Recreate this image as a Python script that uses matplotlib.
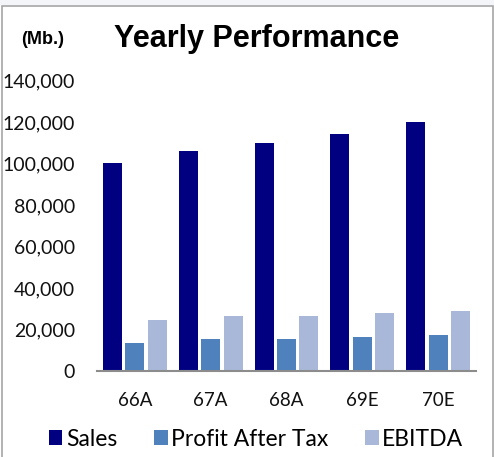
import matplotlib
matplotlib.use("Agg")
import matplotlib.pyplot as plt
import matplotlib.ticker as ticker
from matplotlib.patches import Rectangle
import numpy as np

# Data (Mb.)
years = ["66A", "67A", "68A", "69E", "70E"]
sales = [100100, 106200, 109900, 114400, 119800]
profit_after_tax = [13600, 15400, 15400, 16400, 17300]
ebitda = [24600, 26300, 26300, 28100, 29100]

series_names = ["Sales", "Profit After Tax", "EBITDA"]
colors = ["#000080", "#4f81bd", "#a9b8d8"]

LABEL_FONT = ["Lato", "DejaVu Sans"]
TITLE_FONT = ["Liberation Sans", "DejaVu Sans"]

fig = plt.figure(figsize=(4.94, 4.57), dpi=100)
ax = fig.add_axes([97 / 494, 1 - 371 / 457, 379 / 494, 290.5 / 457])

x = np.arange(len(years))
offset = 0.295
width = 0.25
handles = []
for i, (vals, name, col) in enumerate(zip([sales, profit_after_tax, ebitda], series_names, colors)):
    b = ax.bar(x + (i - 1) * offset, vals, width=width, color=col, label=name)
    handles.append(b)

ax.set_xlim(-0.5, len(years) - 0.5)
ax.set_ylim(0, 140000)
ax.yaxis.set_major_locator(ticker.MultipleLocator(20000))
ax.yaxis.set_major_formatter(ticker.FuncFormatter(lambda v, p: f"{int(v):,}"))
ax.set_xticks(x)
ax.set_xticklabels(years)

for lab in ax.get_yticklabels():
    lab.set_fontfamily(LABEL_FONT)
    lab.set_fontsize(14)
    lab.set_color("#111111")
for lab in ax.get_xticklabels():
    lab.set_fontfamily(LABEL_FONT)
    lab.set_fontsize(13.5)
    lab.set_color("#111111")
ax.tick_params(axis="y", length=0, pad=16)
ax.tick_params(axis="x", length=0, pad=15)

for side in ["top", "right", "left"]:
    ax.spines[side].set_visible(False)
ax.spines["bottom"].set_color("#8c8c8c")
ax.spines["bottom"].set_linewidth(1.5)

fig.text(257 / 494, 1 - 39 / 457, "Yearly Performance", ha="center", va="center",
         fontsize=22, fontweight="bold", family=TITLE_FONT)
fig.text(43 / 494, 1 - 40 / 457, "(Mb.)", ha="center", va="center",
         fontsize=13, fontweight="bold", family=TITLE_FONT)

leg = fig.legend(handles=handles, labels=series_names, loc="center",
                 bbox_to_anchor=(256 / 494, 1 - 439 / 457), ncol=3, frameon=False,
                 prop={"family": LABEL_FONT, "size": 16.5},
                 handlelength=0.6, handleheight=0.6, handletextpad=0.15,
                 columnspacing=1.6, borderpad=0, borderaxespad=0)

# thin frame around the chart like the source screenshot
fig.patches.append(Rectangle((0, 1 - 5 / 457), 1, 5 / 457, transform=fig.transFigure,
                             facecolor="#f4f5f8", edgecolor="none"))
fig.patches.append(Rectangle((1.5 / 494, -0.01), 491.5 / 494, 1.01 - 5.5 / 457,
                             transform=fig.transFigure, facecolor="none",
                             edgecolor="#a6a6a6", linewidth=1.2))

fig.savefig("out.png", dpi=100)
